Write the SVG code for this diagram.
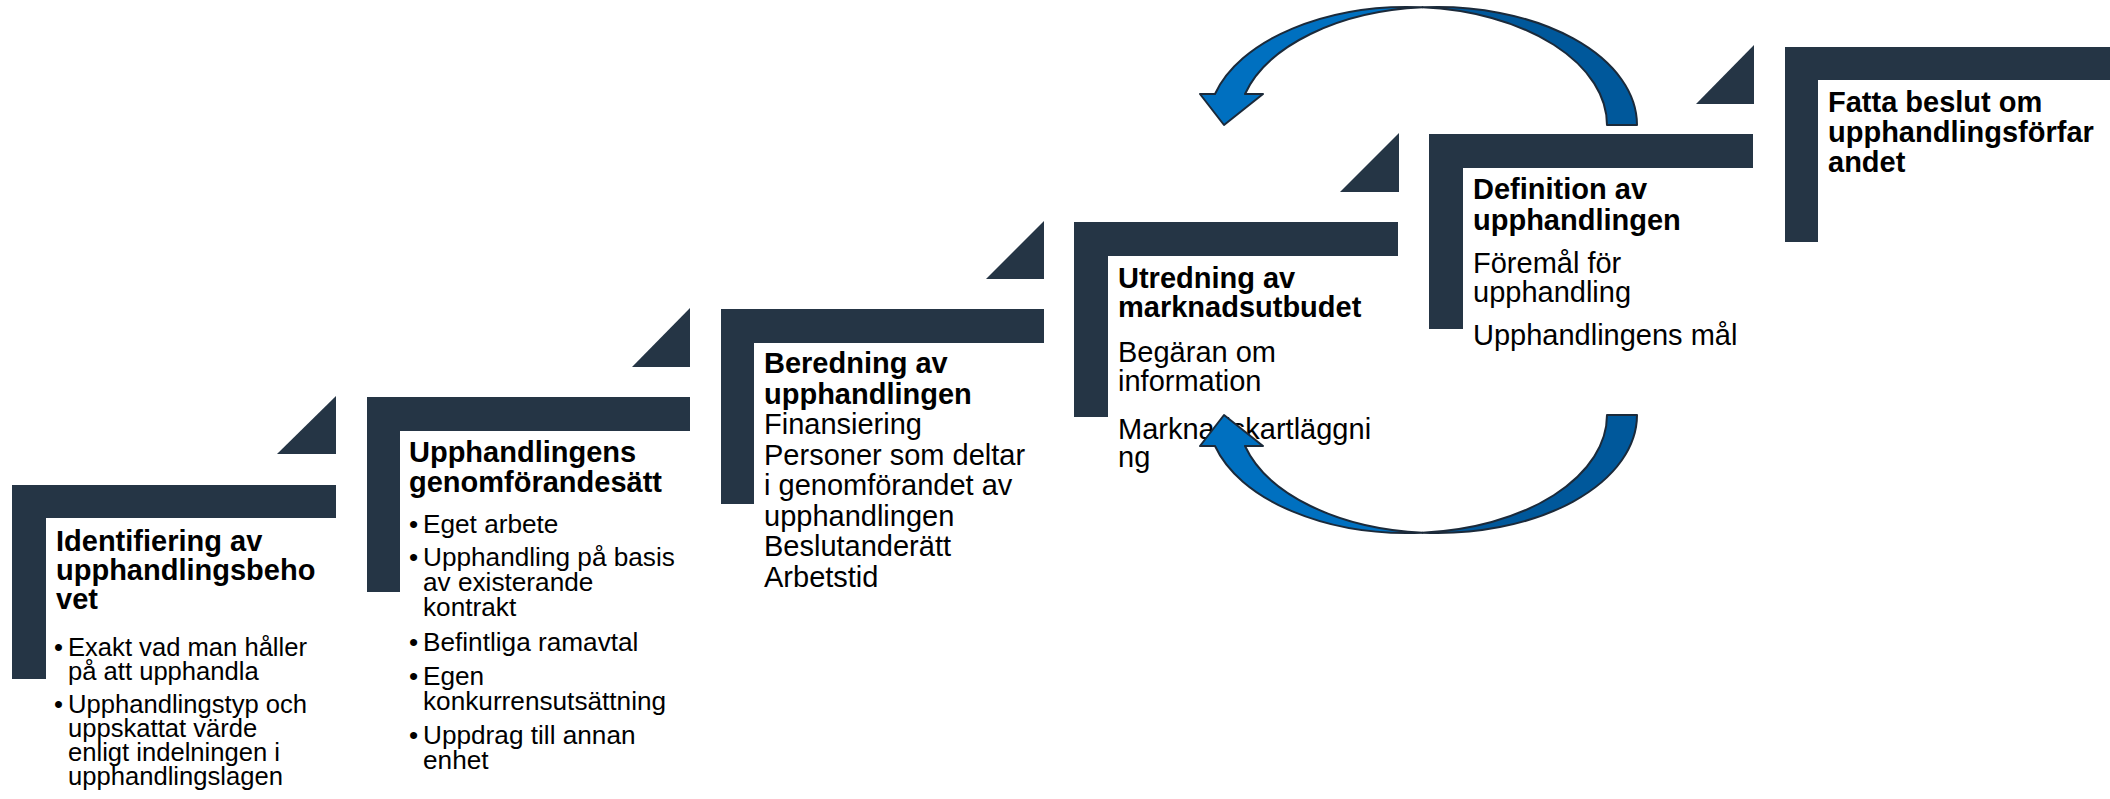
<svg xmlns="http://www.w3.org/2000/svg" width="2110" height="799" viewBox="0 0 2110 799">
<style>
.bar{fill:#253545}
.t{font-family:"Liberation Sans",Arial,sans-serif;fill:#000}
.h{font-weight:bold;font-size:29px}
.b{font-size:26.2px}
.s{font-size:25.6px}
.r{font-size:29px}
.arr{stroke:#1b2a3a;stroke-width:2;stroke-linejoin:round}
.lt{fill:#0070c0}
.dk{fill:#00589b}
</style>
<rect width="2110" height="799" fill="#fff"/>

<g id="step1">
<path class="bar" d="M12 485H336V518H46V679H12Z"/>
<polygon class="bar" points="336,396 336,454 277,454"/>
<g class="t">
<text class="h" x="56" y="551">Identifiering av</text>
<text class="h" x="56" y="580">upphandlingsbeho</text>
<text class="h" x="56" y="609">vet</text>
<text class="s" x="54" y="656">•</text><text class="s" x="68" y="656">Exakt vad man håller</text>
<text class="s" x="68" y="680">på att upphandla</text>
<text class="s" x="54" y="713">•</text><text class="s" x="68" y="713">Upphandlingstyp och</text>
<text class="s" x="68" y="737">uppskattat värde</text>
<text class="s" x="68" y="761">enligt indelningen i</text>
<text class="s" x="68" y="785">upphandlingslagen</text>
</g>
</g>

<g id="step2">
<path class="bar" d="M367 397H690V431H400V592H367Z"/>
<polygon class="bar" points="690,308 690,367 632,367"/>
<g class="t">
<text class="h" x="409" y="462">Upphandlingens</text>
<text class="h" x="409" y="492">genomförandesätt</text>
<text class="b" x="409" y="533">•</text><text class="b" x="423" y="533">Eget arbete</text>
<text class="b" x="409" y="566">•</text><text class="b" x="423" y="566">Upphandling på basis</text>
<text class="b" x="423" y="591">av existerande</text>
<text class="b" x="423" y="616">kontrakt</text>
<text class="b" x="409" y="651">•</text><text class="b" x="423" y="651">Befintliga ramavtal</text>
<text class="b" x="409" y="685">•</text><text class="b" x="423" y="685">Egen</text>
<text class="b" x="423" y="710">konkurrensutsättning</text>
<text class="b" x="409" y="744">•</text><text class="b" x="423" y="744">Uppdrag till annan</text>
<text class="b" x="423" y="769">enhet</text>
</g>
</g>

<g id="step3">
<path class="bar" d="M721 309H1044V343H754V504H721Z"/>
<polygon class="bar" points="1044,221 1044,279 986,279"/>
<g class="t">
<text class="h" x="764" y="373">Beredning av</text>
<text class="h" x="764" y="404">upphandlingen</text>
<text class="r" x="764" y="434">Finansiering</text>
<text class="r" x="764" y="465">Personer som deltar</text>
<text class="r" x="764" y="495">i genomförandet av</text>
<text class="r" x="764" y="526">upphandlingen</text>
<text class="r" x="764" y="556">Beslutanderätt</text>
<text class="r" x="764" y="587">Arbetstid</text>
</g>
</g>

<g id="step4">
<path class="bar" d="M1074 222H1398V256H1108V417H1074Z"/>
<polygon class="bar" points="1399,133 1399,192 1340,192"/>
<g class="t">
<text class="h" x="1118" y="288">Utredning av</text>
<text class="h" x="1118" y="317">marknadsutbudet</text>
<text class="r" x="1118" y="362">Begäran om</text>
<text class="r" x="1118" y="391">information</text>
<text class="r" x="1118" y="439">Marknadskartläggni</text>
<text class="r" x="1118" y="467">ng</text>
</g>
</g>

<g id="step5">
<path class="bar" d="M1429 134H1753V168H1463V329H1429Z"/>
<polygon class="bar" points="1754,45 1754,104 1696,104"/>
<g class="t">
<text class="h" x="1473" y="199">Definition av</text>
<text class="h" x="1473" y="230">upphandlingen</text>
<text class="r" x="1473" y="273">Föremål för</text>
<text class="r" x="1473" y="302">upphandling</text>
<text class="r" x="1473" y="345">Upphandlingens mål</text>
</g>
</g>

<g id="step6">
<path class="bar" d="M1785 47H2110V80H1818V242H1785Z"/>
<g class="t">
<text class="h" x="1828" y="112">Fatta beslut om</text>
<text class="h" x="1828" y="142">upphandlingsförfar</text>
<text class="h" x="1828" y="172">andet</text>
</g>
</g>

<g id="connectors">
<g id="arrow-top" class="arr">
<path class="dk" d="M1422.5 7.33A199.5 118 0 0 1 1637 125L1607 125A199.5 118 0 0 0 1422.5 7.33Z"/>
<path class="lt" d="M1215 94A199.5 118 0 0 1 1422.5 7.33A199.5 118 0 0 0 1245 94L1263 94L1224 125L1200 94Z"/>
</g>
<g id="arrow-bottom" class="arr">
<path class="dk" d="M1422.5 532.67A199.5 118 0 0 0 1637 415L1607 415A199.5 118 0 0 1 1422.5 532.67Z"/>
<path class="lt" d="M1215 446A199.5 118 0 0 0 1422.5 532.67A199.5 118 0 0 1 1245 446L1263 446L1224 415L1200 446Z"/>
</g>
</g>
</svg>
